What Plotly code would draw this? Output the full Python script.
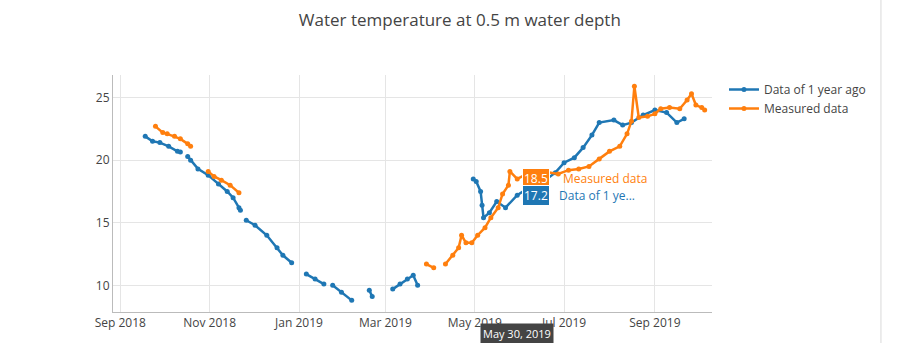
import plotly.graph_objects as go

# Water temperature at 0.5 m depth, previous year (blue) and current measurements (orange).
# A None value marks a gap in the logger record.
year_ago_dates = [
    "2018-09-18", "2018-09-23", "2018-09-28", "2018-10-04", "2018-10-10", "2018-10-12",
    "2018-10-14",
    "2018-10-17", "2018-10-19", "2018-10-24", "2018-10-31", "2018-11-07", "2018-11-13",
    "2018-11-17", "2018-11-21", "2018-11-22",
    "2018-11-24",
    "2018-11-26", "2018-12-02", "2018-12-10", "2018-12-17", "2018-12-21", "2018-12-27",
    "2019-01-01",
    "2019-01-06", "2019-01-12", "2019-01-18",
    "2019-01-21",
    "2019-01-24", "2019-01-30", "2019-02-06",
    "2019-02-12",
    "2019-02-18", "2019-02-20",
    "2019-03-01",
    "2019-03-06", "2019-03-11", "2019-03-16", "2019-03-20", "2019-03-23",
    "2019-04-15",
    "2019-04-30", "2019-05-02", "2019-05-05", "2019-05-06", "2019-05-07", "2019-05-11",
    "2019-05-16", "2019-05-22", "2019-05-30", "2019-06-07", "2019-06-17", "2019-06-25",
    "2019-07-01", "2019-07-08", "2019-07-14", "2019-07-20", "2019-07-25", "2019-08-04",
    "2019-08-10", "2019-08-16", "2019-08-24", "2019-09-01", "2019-09-09", "2019-09-16",
    "2019-09-21",
]
year_ago_values = [
    21.9, 21.5, 21.4, 21.1, 20.7, 20.65,
    None,
    20.3, 20.0, 19.3, 18.8, 18.1, 17.5,
    17.0, 16.2, 16.0,
    None,
    15.2, 14.8, 14.0, 13.0, 12.4, 11.8,
    None,
    10.9, 10.5, 10.1,
    None,
    10.0, 9.45, 8.8,
    None,
    9.6, 9.1,
    None,
    9.7, 10.1, 10.5, 10.8, 10.0,
    None,
    18.5, 18.3, 17.5, 16.4, 15.4, 15.8,
    16.7, 16.2, 17.2, 17.8, 18.3, 19.0,
    19.8, 20.2, 21.0, 22.0, 23.0, 23.2,
    22.8, 23.0, 23.6, 24.0, 23.8, 23.0,
    23.3,
]

measured_dates = [
    "2018-09-25", "2018-09-30", "2018-10-03", "2018-10-08", "2018-10-12", "2018-10-17",
    "2018-10-19",
    "2018-10-25",
    "2018-10-31", "2018-11-04", "2018-11-09", "2018-11-15", "2018-11-21",
    "2019-03-01",
    "2019-03-29", "2019-04-03",
    "2019-04-07",
    "2019-04-11", "2019-04-16", "2019-04-20", "2019-04-22", "2019-04-25", "2019-04-29",
    "2019-05-03", "2019-05-08", "2019-05-12", "2019-05-17", "2019-05-20", "2019-05-24",
    "2019-05-25", "2019-05-30", "2019-06-04", "2019-06-11", "2019-06-17", "2019-06-27",
    "2019-07-04", "2019-07-11", "2019-07-18", "2019-07-25", "2019-08-01", "2019-08-08",
    "2019-08-13", "2019-08-16", "2019-08-18", "2019-08-21", "2019-08-27", "2019-09-01",
    "2019-09-05", "2019-09-11", "2019-09-18", "2019-09-23", "2019-09-26", "2019-09-29",
    "2019-10-03", "2019-10-05",
]
measured_values = [
    22.7, 22.2, 22.1, 21.9, 21.7, 21.3,
    21.1,
    None,
    19.1, 18.7, 18.4, 18.0, 17.4,
    None,
    11.7, 11.4,
    None,
    11.7, 12.4, 13.0, 14.0, 13.4, 13.4,
    14.0, 14.6, 15.4, 16.2, 17.3, 18.0,
    19.1, 18.5, 18.8, 19.0, 19.1, 18.9,
    19.2, 19.3, 19.5, 20.1, 20.7, 21.1,
    22.1, 23.1, 25.9, 23.4, 23.5, 23.7,
    24.1, 24.2, 24.1, 24.8, 25.3, 24.4,
    24.2, 24.0,
]

hover_date = "2019-05-30"
hover_measured = 18.5
hover_year_ago = 17.2

BLUE = "#1f77b4"
ORANGE = "#ff7f0e"

fig = go.Figure()
fig.add_trace(go.Scatter(
    x=year_ago_dates, y=year_ago_values, name="Data of 1 year ago",
    mode="lines+markers", connectgaps=False,
    line=dict(color=BLUE, width=2.5), marker=dict(size=5, color=BLUE),
))
fig.add_trace(go.Scatter(
    x=measured_dates, y=measured_values, name="Measured data",
    mode="lines+markers", connectgaps=False,
    line=dict(color=ORANGE, width=2.5), marker=dict(size=5, color=ORANGE),
))

# Hover-style read-out for 30 May 2019
fig.add_annotation(x=hover_date, y=hover_measured, text=f"{hover_measured}",
                   showarrow=False, xanchor="left", xshift=5,
                   bgcolor=ORANGE, bordercolor="white", borderwidth=1, borderpad=1,
                   font=dict(color="white", size=12))
fig.add_annotation(x=hover_date, y=hover_measured, text="Measured data",
                   showarrow=False, xanchor="left", xshift=44,
                   font=dict(color=ORANGE, size=12))
fig.add_annotation(x=hover_date, y=hover_year_ago, text=f"{hover_year_ago}",
                   showarrow=False, xanchor="left", xshift=5,
                   bgcolor=BLUE, bordercolor="white", borderwidth=1, borderpad=1,
                   font=dict(color="white", size=12))
fig.add_annotation(x=hover_date, y=hover_year_ago, text="Data of 1 ye...",
                   showarrow=False, xanchor="left", xshift=40,
                   font=dict(color=BLUE, size=12))
fig.add_annotation(x=hover_date, y=0, yref="paper", text="May 30, 2019",
                   showarrow=False, yanchor="top", yshift=-11,
                   bgcolor="#444", borderpad=2, font=dict(color="white", size=11))

# right-hand container border
fig.add_shape(type="line", xref="paper", yref="paper",
              x0=1.282, x1=1.282, y0=-0.2, y1=1.4,
              line=dict(color="#e6e6e6", width=1.5))

fig.update_layout(
    width=907, height=343,
    margin=dict(l=113, r=195, t=75, b=28),
    template="plotly_white",
    font=dict(family="Open Sans", size=12, color="#444"),
    title=dict(text="Water temperature at 0.5 m water depth",
               x=0.507, xanchor="center", y=1 - 20 / 343, yanchor="middle",
               font=dict(size=17)),
    legend=dict(x=1.02, y=1, font=dict(size=12)),
    showlegend=True,
)
fig.update_xaxes(range=["2018-08-27", "2019-10-10"], dtick="M2", tickformat="%b %Y",
                 showgrid=True, gridcolor="#e5e5e5", showline=True, linecolor="#bbb",
                 zeroline=False)
fig.update_yaxes(range=[7.87, 26.8], dtick=5, showgrid=True, gridcolor="#e5e5e5",
                 showline=True, linecolor="#bbb", zeroline=False)

fig.write_html("out.html")
